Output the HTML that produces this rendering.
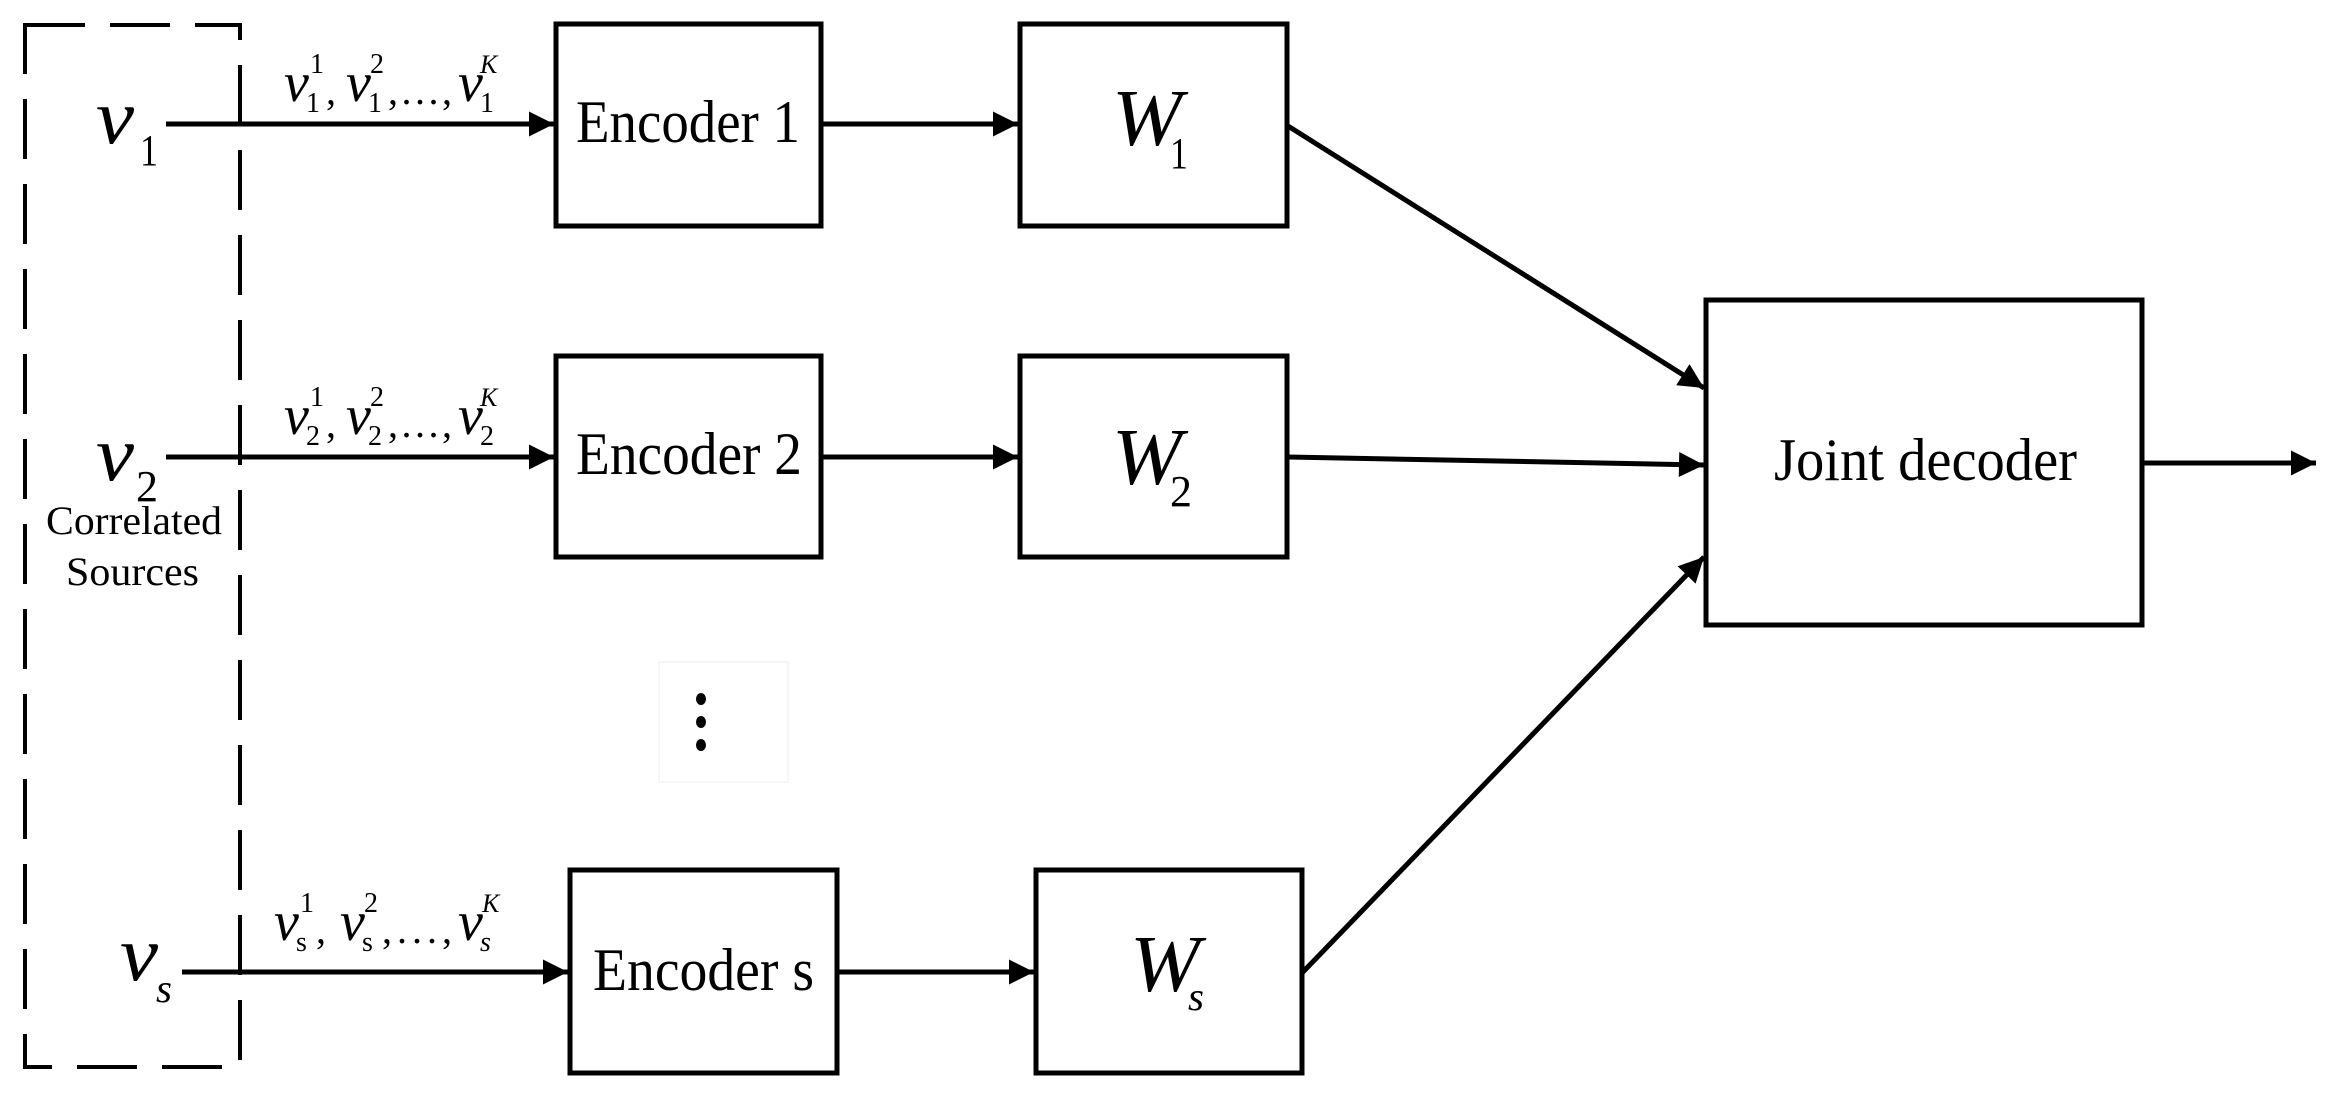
<!DOCTYPE html>
<html><head><meta charset="utf-8"><style>
html,body{margin:0;padding:0;background:#fff;}
svg{display:block;}
text{font-family:"Liberation Serif",serif;fill:#000;}
.i{font-style:italic;}
</style></head><body>
<svg width="2330" height="1101" viewBox="0 0 2330 1101" xmlns="http://www.w3.org/2000/svg">
<defs>
<marker id="a" viewBox="0 0 10 10" refX="10" refY="5" markerWidth="6" markerHeight="5" markerUnits="strokeWidth" orient="auto"><path d="M0,0 L10,5 L0,10 z" fill="#000"/></marker>
</defs>
<rect x="25" y="25" width="215" height="1042" fill="none" stroke="#000" stroke-width="4" stroke-dasharray="60 25"/>
<g fill="none" stroke="#000" stroke-width="5">
<rect x="556" y="24" width="265" height="202"/>
<rect x="1020" y="24" width="267" height="202"/>
<rect x="556" y="356" width="265" height="201"/>
<rect x="1020" y="356" width="267" height="201"/>
<rect x="570" y="870" width="267" height="203"/>
<rect x="1036" y="870" width="266" height="203"/>
<rect x="1706" y="300" width="436" height="325"/>
</g>
<g stroke="#000" stroke-width="5" fill="none" marker-end="url(#a)">
<line x1="166" y1="124" x2="554" y2="124"/>
<line x1="166" y1="457" x2="554" y2="457"/>
<line x1="182" y1="972" x2="568" y2="972"/>
<line x1="821" y1="124" x2="1018" y2="124"/>
<line x1="821" y1="457" x2="1018" y2="457"/>
<line x1="837" y1="972" x2="1034" y2="972"/>
<line x1="1288" y1="126" x2="1704" y2="388"/>
<line x1="1288" y1="457" x2="1704" y2="465"/>
<line x1="1302" y1="973" x2="1704" y2="557"/>
<line x1="2142" y1="463" x2="2316" y2="463"/>
</g>
<rect x="659" y="662" width="129" height="120" fill="none" stroke="#f2f4f8" stroke-width="1.5"/>
<ellipse cx="701" cy="699" rx="5" ry="6"/>
<ellipse cx="701" cy="722" rx="5" ry="6"/>
<ellipse cx="701" cy="745" rx="5" ry="6"/>
<text x="576" y="142" font-size="60" textLength="224" lengthAdjust="spacingAndGlyphs">Encoder 1</text>
<text x="576" y="474" font-size="60" textLength="226" lengthAdjust="spacingAndGlyphs">Encoder 2</text>
<text x="593" y="990" font-size="60" textLength="221" lengthAdjust="spacingAndGlyphs">Encoder s</text>
<text x="1774" y="480" font-size="60" textLength="303" lengthAdjust="spacingAndGlyphs">Joint decoder</text>
<text class="i" x="1112" y="145" font-size="80" textLength="70" lengthAdjust="spacingAndGlyphs">W</text>
<text x="1170" y="168" font-size="44" textLength="18" lengthAdjust="spacingAndGlyphs">1</text>
<text class="i" x="1112" y="484" font-size="80" textLength="70" lengthAdjust="spacingAndGlyphs">W</text>
<text x="1170" y="506" font-size="44" textLength="22" lengthAdjust="spacingAndGlyphs">2</text>
<text class="i" x="1130" y="991" font-size="80" textLength="70" lengthAdjust="spacingAndGlyphs">W</text>
<text class="i" x="1188" y="1010" font-size="40" textLength="16" lengthAdjust="spacingAndGlyphs">s</text>
<text class="i" x="96" y="143" font-size="78" textLength="38" lengthAdjust="spacingAndGlyphs">v</text>
<text x="140" y="165" font-size="44" textLength="18" lengthAdjust="spacingAndGlyphs">1</text>
<text class="i" x="96" y="480" font-size="78" textLength="38" lengthAdjust="spacingAndGlyphs">v</text>
<text x="136" y="501" font-size="44" textLength="22" lengthAdjust="spacingAndGlyphs">2</text>
<text class="i" x="120" y="980" font-size="78" textLength="38" lengthAdjust="spacingAndGlyphs">v</text>
<text class="i" x="156" y="1002" font-size="40" textLength="16" lengthAdjust="spacingAndGlyphs">s</text>
<text x="46" y="534" font-size="40" textLength="176" lengthAdjust="spacingAndGlyphs">Correlated</text>
<text x="66" y="585" font-size="40" textLength="133" lengthAdjust="spacingAndGlyphs">Sources</text>
<g>
<text class="i" x="284" y="101" font-size="56">v</text>
<text x="306" y="112" font-size="28">1</text>
<text x="310" y="73" font-size="28">1</text>
<text x="326" y="104" font-size="40">,</text>
<text class="i" x="346" y="101" font-size="56">v</text>
<text x="368" y="112" font-size="28">1</text>
<text x="370" y="73" font-size="28">2</text>
<text x="388" y="104" font-size="40" textLength="64" lengthAdjust="spacing">,...,</text>
<text class="i" x="458" y="101" font-size="56">v</text>
<text x="480" y="112" font-size="28">1</text>
<text class="i" x="480" y="73" font-size="26">K</text>
</g>
<g transform="translate(0,333)">
<text class="i" x="284" y="101" font-size="56">v</text>
<text x="306" y="112" font-size="28">2</text>
<text x="310" y="73" font-size="28">1</text>
<text x="326" y="104" font-size="40">,</text>
<text class="i" x="346" y="101" font-size="56">v</text>
<text x="368" y="112" font-size="28">2</text>
<text x="370" y="73" font-size="28">2</text>
<text x="388" y="104" font-size="40" textLength="64" lengthAdjust="spacing">,...,</text>
<text class="i" x="458" y="101" font-size="56">v</text>
<text x="480" y="112" font-size="28">2</text>
<text class="i" x="480" y="73" font-size="26">K</text>
</g>
<g transform="translate(-10,839)">
<text class="i" x="284" y="101" font-size="56">v</text>
<text x="306" y="112" font-size="28">s</text>
<text x="310" y="73" font-size="28">1</text>
<text x="326" y="104" font-size="40">,</text>
<text class="i" x="350" y="101" font-size="56">v</text>
<text x="372" y="112" font-size="28">s</text>
<text x="374" y="73" font-size="28">2</text>
<text x="392" y="104" font-size="40" textLength="70" lengthAdjust="spacing">,...,</text>
<text class="i" x="468" y="101" font-size="56">v</text>
<text class="i" x="490" y="112" font-size="28">s</text>
<text class="i" x="492" y="73" font-size="26">K</text>
</g>
</svg>
</body></html>
